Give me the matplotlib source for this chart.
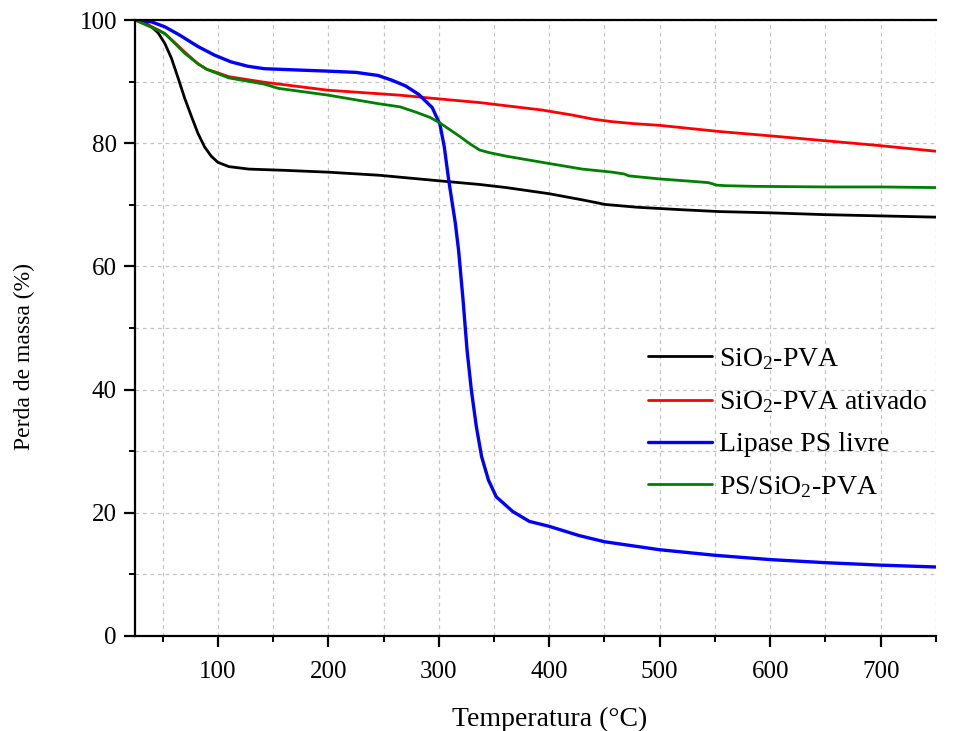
import matplotlib.pyplot as plt
from matplotlib.ticker import MultipleLocator

plt.rcParams['font.family'] = ['Liberation Serif', 'DejaVu Serif']
plt.rcParams['mathtext.fontset'] = 'custom'
plt.rcParams['mathtext.rm'] = 'Liberation Serif'
plt.rcParams['mathtext.it'] = 'Liberation Serif:italic'

# ----------------------------
# Data
# ----------------------------

t_sio2 = [25, 33, 40, 46, 52, 58, 64, 70, 76, 82, 88, 94, 100, 110, 128, 160,
          200, 246, 300, 337, 361, 400, 430, 451, 480, 520, 554, 600, 650, 700,
          750]
m_sio2 = [100, 99.6, 98.9, 97.9, 96.2, 93.8, 90.6, 87.3, 84.4, 81.6, 79.4, 77.9,
          76.9, 76.2, 75.8, 75.6, 75.3, 74.8, 73.9, 73.3, 72.8, 71.8, 70.8, 70.05,
          69.6, 69.2, 68.9, 68.7, 68.4, 68.2, 68.0]

t_ativ = [25, 35, 45, 52, 60, 70, 82, 90, 97, 110, 142, 200, 265, 300, 337, 393,
          420, 440, 457, 475, 500, 554, 600, 650, 700, 750]
m_ativ = [100, 99.3, 98.5, 97.8, 96.5, 94.8, 92.9, 92.0, 91.6, 90.8, 89.9, 88.6,
          87.8, 87.2, 86.6, 85.4, 84.6, 83.9, 83.5, 83.2, 82.9, 81.9, 81.2, 80.4,
          79.6, 78.7]

t_lip = [25, 40, 52, 65, 82, 97, 112, 127, 142, 170, 200, 225, 245, 258, 270,
         282, 294, 301, 305, 309, 315, 318, 322, 325.6, 329.5, 334, 338.8, 345,
         352, 367, 382, 400, 427, 450, 500, 550, 600, 650, 700, 750]
m_lip = [100, 99.7, 98.9, 97.6, 95.7, 94.3, 93.2, 92.5, 92.1, 91.9, 91.7, 91.5,
         91.0, 90.2, 89.3, 87.9, 85.8, 83.1, 79.4, 74.0, 67.0, 62.5, 54.5, 46.4,
         39.9, 34.0, 29.1, 25.3, 22.6, 20.2, 18.6, 17.8, 16.3, 15.3, 14.0, 13.1,
         12.4, 11.9, 11.5, 11.2]

t_ps = [25, 35, 45, 52, 60, 70, 82, 90, 97, 110, 142, 155, 200, 246, 265, 280,
        292, 301, 310, 319, 329, 337, 345, 361, 400, 430, 457, 468, 472, 500,
        530, 544, 548, 551, 560, 586, 650, 700, 750]
m_ps = [100, 99.2, 98.4, 97.8, 96.4, 94.6, 92.9, 92.0, 91.5, 90.6, 89.6, 88.9,
        87.8, 86.4, 85.9, 85.0, 84.2, 83.3, 82.2, 81.1, 79.8, 78.9, 78.5, 77.9,
        76.7, 75.8, 75.3, 75.0, 74.7, 74.2, 73.8, 73.6, 73.4, 73.2, 73.1, 73.0,
        72.9, 72.9, 72.8]

series = [
    (t_sio2, m_sio2, "SiO$_2$-PVA", "black", 2.0),
    (t_ativ, m_ativ, "SiO$_2$-PVA ativado", "red", 2.0),
    (t_lip, m_lip, "Lipase PS livre", "blue", 2.4),
    (t_ps, m_ps, "PS/SiO$_2$-PVA", "green", 2.0),
]

# ----------------------------
# Figure
# ----------------------------

fig = plt.figure(figsize=(9.54, 7.31), dpi=100)
ax = fig.add_axes([0.1415, 0.13, 0.8395, 0.8426])

for t, m, label, color, lw in series:
    ax.plot(t, m, color=color, lw=lw, label=label, solid_capstyle="round")

ax.set_xlim(25, 750)
ax.set_ylim(0, 100)

ax.xaxis.set_major_locator(MultipleLocator(100))
ax.xaxis.set_minor_locator(MultipleLocator(50))
ax.yaxis.set_major_locator(MultipleLocator(20))
ax.yaxis.set_minor_locator(MultipleLocator(10))

ax.grid(True, which="both", color="#c4c4c4", linestyle=(0, (3, 3)), lw=0.9)
ax.set_axisbelow(True)

ax.spines["right"].set_visible(False)
for s in ["left", "bottom", "top"]:
    ax.spines[s].set_linewidth(1.6)

ax.tick_params(which="major", direction="out", length=8, width=1.6,
               labelsize=18, colors="black")
ax.tick_params(which="minor", direction="out", length=4.5, width=1.4)
ax.tick_params(axis="x", which="major", pad=10)
ax.tick_params(axis="y", which="major", pad=5)
ax.tick_params(top=False, right=False, which="both")

ax.set_xlabel("Temperatura (°C)", fontsize=20)
ax.set_ylabel("Perda de massa (%)", fontsize=17)
ax.xaxis.set_label_coords(0.518, -0.115)
ax.yaxis.set_label_coords(-0.125, 0.453)

ax.legend(loc="upper left", bbox_to_anchor=(0.679, 0.527),
          bbox_transform=fig.transFigure, frameon=False,
          fontsize=20, handlelength=2.3, labelspacing=0.6,
          handletextpad=0.25, borderpad=0, borderaxespad=0)

fig.savefig("out.png", dpi=100)
